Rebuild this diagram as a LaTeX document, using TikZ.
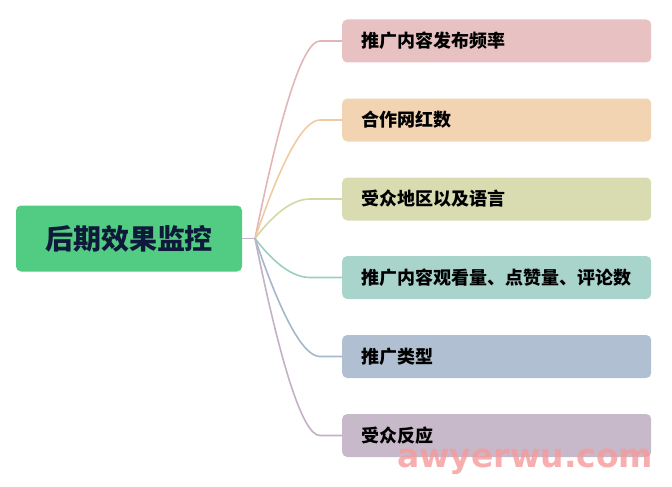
\documentclass[tikz,border=0pt]{standalone}
\usepackage{fontspec}
\newfontfamily\cjk{Noto Sans CJK SC}
\newfontfamily\wmfont{DejaVu Sans}
\usetikzlibrary{calc}
\definecolor{rootfill}{HTML}{52CC82}
\definecolor{roottext}{HTML}{0F1A3A}
\definecolor{c1}{HTML}{E8C2C2}
\definecolor{c2}{HTML}{F2D4B3}
\definecolor{c3}{HTML}{D8DCB0}
\definecolor{c4}{HTML}{A8D4CB}
\definecolor{c5}{HTML}{B0C0D2}
\definecolor{c6}{HTML}{C8B9CA}
\definecolor{l1}{HTML}{E2B6B6}
\definecolor{l2}{HTML}{F0CBA2}
\definecolor{l3}{HTML}{D3D8A2}
\definecolor{l4}{HTML}{9DCEC3}
\definecolor{l5}{HTML}{A4B7CC}
\definecolor{l6}{HTML}{C3B1C5}
\definecolor{wm}{HTML}{F59A9A}
\tikzset{
  rootbox/.style={fill=rootfill, rounded corners=5pt, minimum width=226pt, minimum height=66pt,
    inner sep=0pt, font=\cjk\bfseries\fontsize{28}{32}\selectfont, text=roottext},
  branchbox/.style={fill=#1, rounded corners=5pt, anchor=west, minimum width=309pt, minimum height=43pt,
    text width=271pt, inner xsep=19pt, inner ysep=0pt, align=left,
    font=\cjk\bfseries\fontsize{18}{22}\selectfont, text=black},
  link/.style={draw=#1, line width=1.6pt},
}
\begin{document}
\begin{tikzpicture}[x=1pt,y=-1pt]
\useasboundingbox (0,0) rectangle (672,487);
\node[rootbox] (root) at (129,238.5) {后期效果监控};
\node[branchbox=c1] (b1) at (342,41) {推广内容发布频率};
\node[branchbox=c2] (b2) at (342,120) {合作网红数};
\node[branchbox=c3] (b3) at (342,199) {受众地区以及语言};
\node[branchbox=c4] (b4) at (342,277.5) {推广内容观看量、点赞量、评论数};
\node[branchbox=c5] (b5) at (342,356.5) {推广类型};
\node[branchbox=c6] (b6) at (342,435.5) {受众反应};
\coordinate (hub) at (255,238.5);
\draw[link=l6] (root.east) -- (hub);
\foreach \i/\xb in {1/320,2/320,3/310,4/310,5/320,6/320}{
  \path (b\i.west) coordinate (t);
  \coordinate (p2) at (\xb pt, 0pt |- t);
  \coordinate (p1) at ($(p2)+(-25,0)$);
  \draw[link=l\i] (hub) .. controls ($(hub)!0.6667!(p1)$) and ($(p2)!0.6667!(p1)$) .. (p2) -- (b\i.west);
}
\node[anchor=base west, text=wm, opacity=0.8, font=\wmfont\bfseries\fontsize{33}{38}\selectfont, inner sep=0pt] (wmk) at (397,467) {awyerwu.com};
\end{tikzpicture}
\end{document}
